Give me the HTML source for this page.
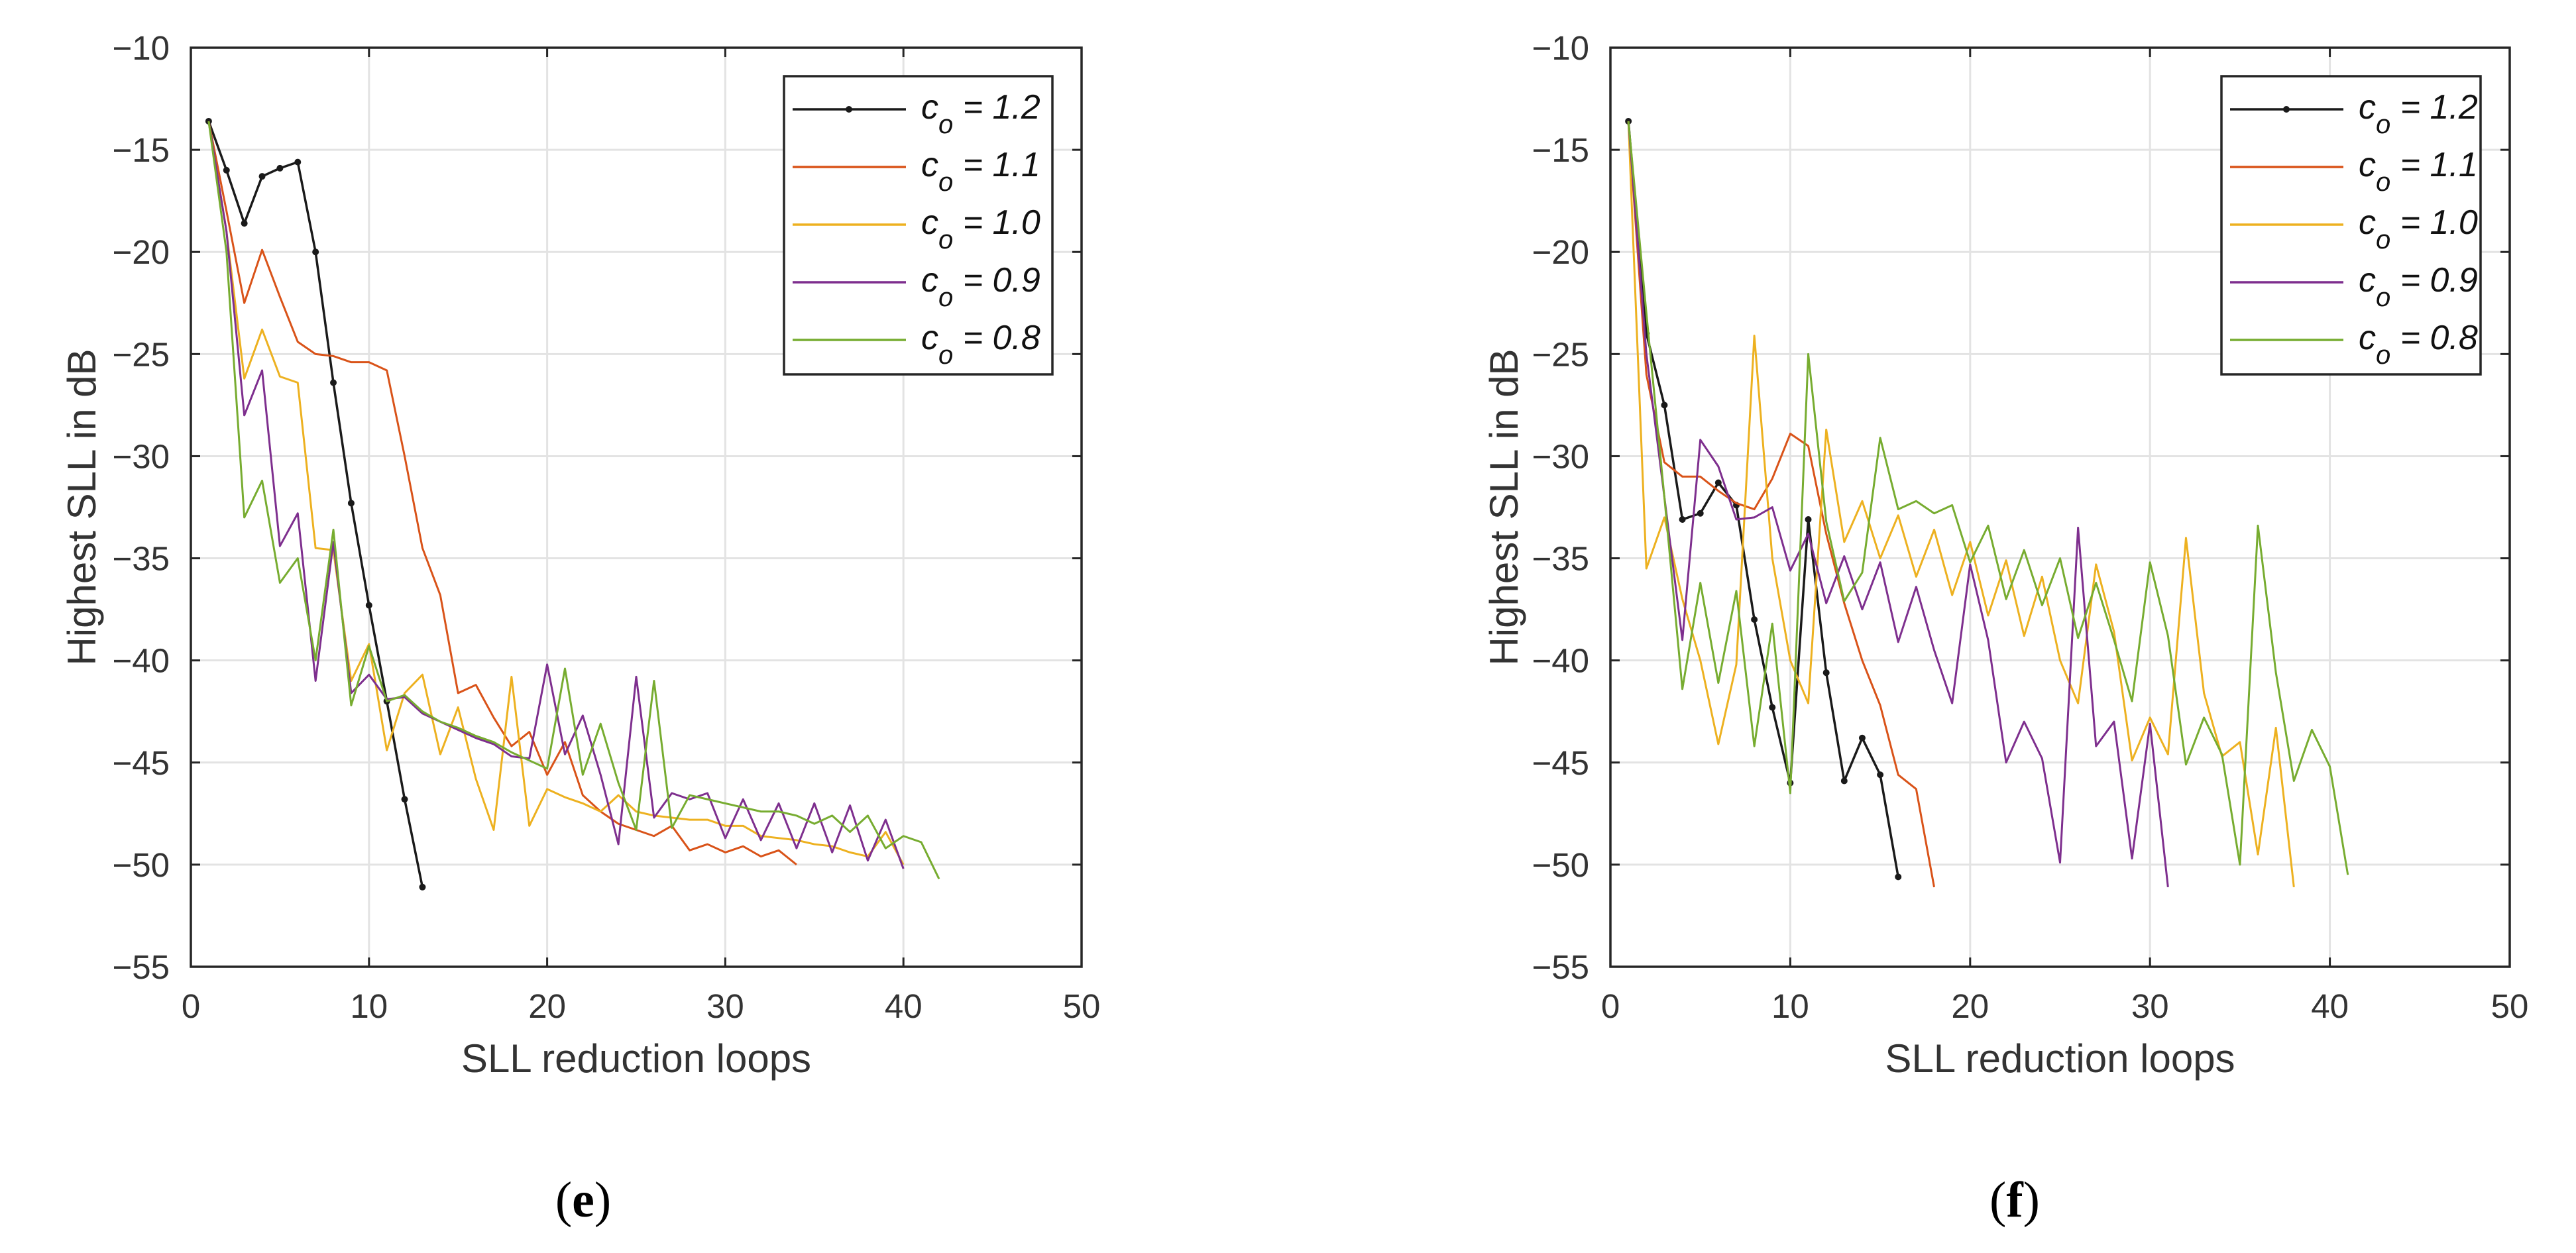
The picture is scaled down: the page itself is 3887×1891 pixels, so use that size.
<!DOCTYPE html>
<html><head><meta charset="utf-8"><style>
html,body{margin:0;padding:0;background:#fff;}
svg{display:block;font-family:"Liberation Sans",sans-serif;}
</style></head><body>
<svg id="fig" width="3887" height="1891" viewBox="0 0 3887 1891" xmlns="http://www.w3.org/2000/svg"></svg>
<script>
const xTicks = [0,10,20,30,40,50];
const yTicks = [-10,-15,-20,-25,-30,-35,-40,-45,-50,-55];
const seriesNames = ["1.2","1.1","1.0","0.9","0.8"];
const colors = ["#1a1a1a","#D95319","#EDB120","#7E2F8E","#77AC30"];

const e12 = [-13.6,-16,-18.6,-16.3,-15.9,-15.6,-20,-26.4,-32.3,-37.3,-42,-46.8,-51.1];
const e11 = [-13.6,-18,-22.5,-19.9,-22.2,-24.4,-25,-25.1,-25.4,-25.4,-25.8,-30,-34.5,-36.8,-41.6,-41.2,-42.8,-44.2,-43.5,-45.6,-44,-46.6,-47.4,-48,-48.3,-48.6,-48.1,-49.3,-49,-49.4,-49.1,-49.6,-49.3,-50];
const e10 = [-13.6,-19,-26.2,-23.8,-26.1,-26.4,-34.5,-34.6,-41,-39.2,-44.4,-41.6,-40.7,-44.6,-42.3,-45.8,-48.3,-40.8,-48.1,-46.3,-46.7,-47,-47.4,-46.6,-47.4,-47.6,-47.7,-47.8,-47.8,-48.1,-48.1,-48.6,-48.7,-48.8,-49,-49.1,-49.4,-49.6,-48.4,-50];
const e09 = [-13.6,-19,-28,-25.8,-34.4,-32.8,-41,-34.2,-41.6,-40.7,-41.9,-41.8,-42.6,-43,-43.4,-43.8,-44.1,-44.7,-44.8,-40.2,-44.6,-42.7,-45.6,-49,-40.8,-47.7,-46.5,-46.8,-46.5,-48.7,-46.8,-48.8,-47,-49.2,-47,-49.4,-47.1,-49.8,-47.8,-50.2];
const e08 = [-13.6,-20,-33,-31.2,-36.2,-35,-40,-33.6,-42.2,-39.3,-42,-41.7,-42.5,-43,-43.3,-43.7,-44,-44.5,-44.9,-45.3,-40.4,-45.6,-43.1,-46,-48.3,-41,-48.2,-46.6,-46.8,-47,-47.2,-47.4,-47.4,-47.6,-48,-47.6,-48.4,-47.6,-49.2,-48.6,-48.9,-50.7];

const f12 = [-13.6,-24,-27.5,-33.1,-32.8,-31.3,-32.4,-38,-42.3,-46,-33.1,-40.6,-45.9,-43.8,-45.6,-50.6];
const f11 = [-13.6,-26,-30.3,-31,-31,-31.7,-32.3,-32.6,-31.1,-28.9,-29.5,-33.8,-37.2,-40,-42.2,-45.6,-46.3,-51.1];
const f10 = [-13.6,-35.5,-33,-37,-40,-44.1,-40.2,-24.1,-35,-40,-42.1,-28.7,-34.2,-32.2,-35,-32.9,-35.9,-33.6,-36.8,-34.2,-37.8,-35.1,-38.8,-35.9,-40,-42.1,-35.3,-38.6,-44.9,-42.8,-44.6,-34,-41.6,-44.7,-44,-49.5,-43.3,-51.1];
const f09 = [-13.6,-25,-32,-39,-29.2,-30.5,-33.1,-33,-32.5,-35.6,-33.8,-37.2,-34.9,-37.5,-35.2,-39.1,-36.4,-39.5,-42.1,-35.3,-39,-45,-43,-44.8,-49.9,-33.5,-44.2,-43,-49.7,-43.1,-51.1];
const f08 = [-13.6,-23,-32,-41.4,-36.2,-41.1,-36.6,-44.2,-38.2,-46.5,-25,-33.2,-37.1,-35.7,-29.1,-32.6,-32.2,-32.8,-32.4,-35.2,-33.4,-37,-34.6,-37.3,-35,-38.9,-36.2,-39,-42,-35.2,-38.8,-45.1,-42.8,-44.6,-50,-33.4,-40.6,-45.9,-43.4,-45.2,-50.5];

const NS = "http://www.w3.org/2000/svg";
const svg = document.getElementById("fig");
function mk(tag, attrs, parent){
  const el = document.createElementNS(NS, tag);
  for (const k in attrs) el.setAttribute(k, attrs[k]);
  (parent||svg).appendChild(el);
  return el;
}

function panel(cfg){
  const g = mk("g", {});
  
  
  const L=cfg.L, R=cfg.R, T=72, B=1459;
  const xs = v => L + (v-0)/(50-0)*(R-L);
  const ys = v => T + (-10 - v)/45*(B-T);
  xTicks.forEach(t=>{
    if(t>0&&t<50){
      const gl = mk("line",{x1:xs(t),x2:xs(t),y1:T,y2:B,stroke:"#e3e3e3","stroke-width":3},g);
      
      
    }
    mk("line",{x1:xs(t),x2:xs(t),y1:B,y2:B-14,stroke:"#262626","stroke-width":3},g);
    mk("line",{x1:xs(t),x2:xs(t),y1:T,y2:T+14,stroke:"#262626","stroke-width":3},g);
    const tx = mk("text",{x:xs(t),y:1536,"text-anchor":"middle","font-size":51,fill:"#333"},g);
    tx.textContent = t;
    
    
  });
  yTicks.forEach(t=>{
    if(t>-55&&t<-10){
      const gl = mk("line",{x1:L,x2:R,y1:ys(t),y2:ys(t),stroke:"#e3e3e3","stroke-width":3},g);
      
      
    }
    mk("line",{x1:L,x2:L+14,y1:ys(t),y2:ys(t),stroke:"#262626","stroke-width":3},g);
    mk("line",{x1:R,x2:R-14,y1:ys(t),y2:ys(t),stroke:"#262626","stroke-width":3},g);
    const ty = mk("text",{x:L-32,y:ys(t)+18,"text-anchor":"end","font-size":51,fill:"#333"},g);
    ty.textContent = "\u2212"+Math.abs(t);
    
    
  });
  cfg.series.forEach((arr,i)=>{
    const pts = arr.map((v,j)=>xs(j+1)+","+ys(v)).join(" ");
    const pl = mk("polyline",{points:pts,fill:"none",stroke:colors[i],"stroke-width":i==0?3.5:3,"stroke-linejoin":"round"},g);
    
    
    if(i==0){
      arr.forEach((v,j)=>{
        const c = mk("circle",{cx:xs(j+1),cy:ys(v),r:5,fill:colors[0]},g);
        
        
      });
    }
  });
  mk("rect",{x:L,y:T,width:R-L,height:B-T,fill:"none",stroke:"#262626","stroke-width":3.5},g);
  const xt = mk("text",{x:(L+R)/2,y:1618,"text-anchor":"middle","font-size":60,fill:"#333"},g);
  xt.textContent = "SLL reduction loops";
  
  
  const yt = mk("text",{x:0,y:0,"text-anchor":"middle","font-size":60,fill:"#333",transform:"translate("+cfg.yTitleX+","+((T+B)/2)+") rotate(-90)"},g);
  yt.textContent = "Highest SLL in dB";
  
  
  const lg = mk("g",{},g);
  
  
  const LX=cfg.legX, LW=cfg.legW;
  mk("rect",{x:LX,y:115,width:LW,height:450,fill:"#fff",stroke:"#262626","stroke-width":3.5},lg);
  seriesNames.forEach((n,i)=>{
    const y = 165 + i*87;
    const ent = mk("g",{},lg);
    
    
    mk("line",{x1:LX+13,x2:LX+184,y1:y,y2:y,stroke:colors[i],"stroke-width":3.5},ent);
    if(i==0) mk("circle",{cx:LX+98,cy:y,r:5,fill:colors[0]},ent);
    const t = mk("text",{x:LX+207,y:y+14,"font-size":52,"font-style":"italic",fill:"#111"},ent);
    t.innerHTML = 'c<tspan dy="22" font-size="40">o</tspan><tspan dy="-22"> = '+n+'</tspan>';
  });
  const cap = mk("text",{x:cfg.capX,y:1836,"text-anchor":"middle","font-size":76,"font-family":"Liberation Serif, serif",fill:"#000"},svg);
  cap.innerHTML = '(<tspan font-weight="bold">'+cfg.cap+'</tspan>)';
  
  
}

panel({name:"chart-e",L:288,R:1632,yTitleX:144,legX:1183,legW:405,capX:880,cap:"e",series:[e12,e11,e10,e09,e08]});
panel({name:"chart-f",L:2430,R:3787,yTitleX:2290,legX:3352,legW:391,capX:3040,cap:"f",series:[f12,f11,f10,f09,f08]});
</script>
</body></html>
